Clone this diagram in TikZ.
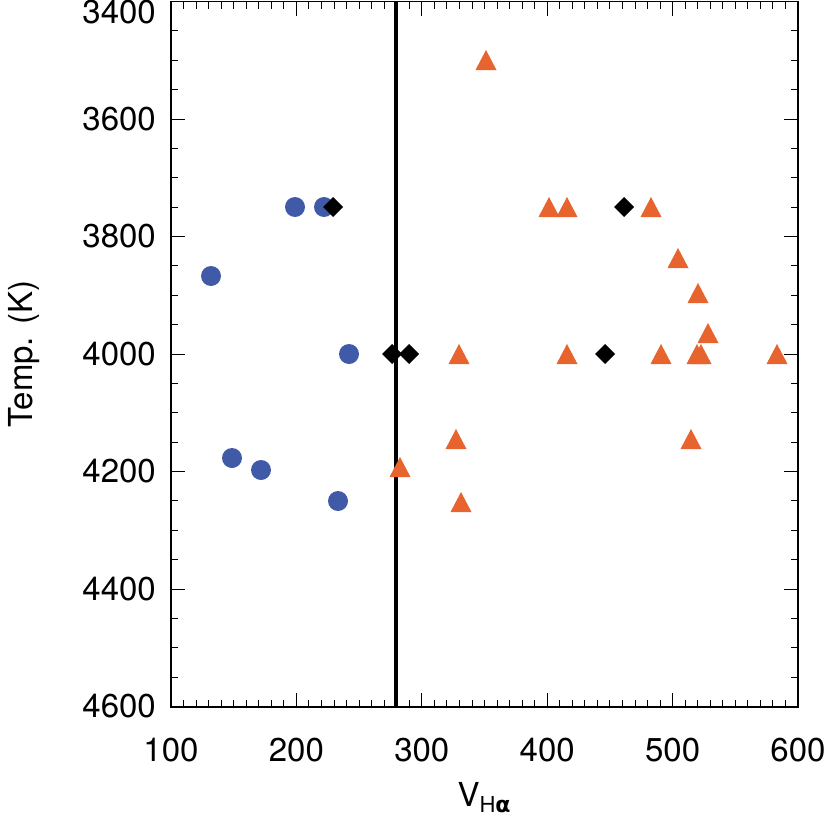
\documentclass[tikz,border=0pt]{standalone}
\usepackage{fontspec}
\setmainfont{TeX Gyre Heros}
\newfontfamily\dvs{DejaVu Sans}
\begin{document}
\begin{tikzpicture}[x=1pt,y=-1pt,
  lab/.style={font=\fontsize{33}{35}\selectfont, inner sep=0pt},
  bluept/.style={fill={rgb,255:red,64;green,90;blue,168}},
  orpt/.style={fill={rgb,255:red,232;green,100;blue,46}},
  blk/.style={fill=black}]
\useasboundingbox (0,0) rectangle (830,819);
\def\xl{171}\def\xr{798}\def\yt{1.5}\def\yb{707}
% frame
\draw[line width=1.2pt] (\xl,\yt) rectangle (\xr,\yb);
% x ticks
\foreach \v in {100,110,...,600}{
  \pgfmathsetmacro{\px}{\xl+(\v-100)*1.254}
  \pgfmathtruncatemacro{\m}{mod(\v,100)}
  \ifnum\m=0
    \draw[line width=0.9pt] (\px,\yb) -- ++(0,-14) (\px,\yt) -- ++(0,14);
  \else
    \draw[line width=0.9pt] (\px,\yb) -- ++(0,-7) (\px,\yt) -- ++(0,7);
  \fi}
\foreach \v in {100,200,...,600}{
  \pgfmathsetmacro{\px}{\xl+(\v-100)*1.254}
  \node[lab] (xl\v) at (\px,750) {\v};}
% y ticks
\foreach \v in {3400,3450,...,4600}{
  \pgfmathsetmacro{\py}{\yt+(\v-3400)*0.5875}
  \pgfmathtruncatemacro{\m}{mod(\v,200)}
  \ifnum\m=0
    \draw[line width=0.9pt] (\xl,\py) -- ++(14,0) (\xr,\py) -- ++(-14,0);
  \else
    \draw[line width=0.9pt] (\xl,\py) -- ++(7,0) (\xr,\py) -- ++(-7,0);
  \fi}
\foreach \v in {3600,3800,...,4600}{
  \pgfmathsetmacro{\py}{\yt+(\v-3400)*0.5875}
  \node[lab,anchor=east] (yl\v) at (156,\py) {\v};}
\node[lab,anchor=north east] (yl3400) at (156,0) {3400};
\node[lab,rotate=90] (ytitle) at (24,354) {Temp. (K)};
\node[lab] (xtitle) at (484,798) {V\raisebox{-0.35ex}{\fontsize{22}{24}\selectfont H{\dvs\bfseries α}}};
% vertical line
\draw[line width=4pt] (396,\yt) -- (396,\yb);
% blue circles
\foreach \x/\y in {295/207,324/207,211/276,349/354,232/458,261/470,338/501}
  \fill[bluept] (\x,\y) circle (10);
% orange triangles
\foreach \x/\y in {486/60,549/207,567/207,651/207,678/258,698/293,708/333,459/354,567/354,661/354,697/354,701/354,777/354,456/439,691/439,400/467,461/502}
  \fill[orpt] (\x-10.5,\y+10) -- (\x+10.5,\y+10) -- (\x,\y-10) -- cycle;
% diamonds
\foreach \x/\y in {333/207,624/207,392/354,409/354,605/354}
  \fill[blk] (\x-10,\y) -- (\x,\y-10) -- (\x+10,\y) -- (\x,\y+10) -- cycle;
\end{tikzpicture}
\end{document}
